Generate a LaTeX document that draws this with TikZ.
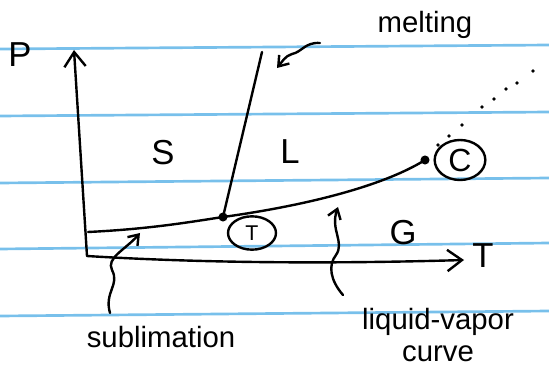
\documentclass[tikz,border=0pt]{standalone}
\usepackage{fontspec}
\setmainfont{Liberation Sans}
\usetikzlibrary{arrows.meta,shapes.geometric}
\definecolor{paperblue}{RGB}{120,192,235}

\begin{document}
\begin{tikzpicture}[x=0.75pt, y=-0.75pt,
  every node/.style={font=\fontsize{22}{24}\selectfont},
  ruled/.style={line width=2pt,paperblue},
  ink/.style={line width=1.8pt,line cap=round,line join=round},
  axis/.style={ink,-{Straight Barb[length=11pt,width=16pt]}},
  pointer/.style={ink,-{Straight Barb[length=7pt,width=10pt]}},
  big/.style={font=\fontsize{26}{30}\selectfont},
  circled/.style={draw,ink,ellipse,inner sep=0pt}]
\useasboundingbox (0,0) rectangle (549,370);
% ruled paper
\foreach \yl/\yr in {49/45,116/112,183/178,249/243,316/311}
  \draw[ruled] (0,\yl) -- (549,\yr);
% key points
\coordinate (o) at (87,256);
\coordinate (ptop) at (74,50);
\coordinate (tend) at (464,260);
\coordinate (sstart) at (88,232);
\coordinate (tp) at (223,217);
\coordinate (mtop) at (262,52);
\coordinate (cp) at (425,160);
% axes
\draw[axis] (o) -- (ptop);
\draw[axis] (o) .. controls (200,263) and (330,264) .. (tend);
% phase boundaries
\draw[ink] (sstart) .. controls (150,229) and (190,222) .. (tp);
\draw[ink] (tp) -- (mtop);
\draw[ink] (tp) .. controls (310,205) and (385,185) .. (cp);
\fill (tp) circle (3.4pt);
\fill (cp) circle (3.4pt);
% past the critical point
\foreach \p in {(438,145),(449,136),(462,125),(482,107),(494,99),(506,89),(517,83),(533,71)}
  \fill \p circle (1.4pt);
% regions and axis names
\node[big] (ls) at (163,153) {S};
\node[big] (ll) at (290,152) {L};
\node[big] (lg) at (403,233) {G};
\node[big] (lp) at (20,55) {P};
\node[big] (lt) at (483,256) {T};
% circled points
\node[circled,minimum width=36pt,minimum height=25pt,font=\fontsize{16}{18}\selectfont] (tcirc) at (252,233) {T};
\node[circled,minimum width=38pt,minimum height=30pt,font=\fontsize{24}{26}\selectfont] (ccirc) at (460,160) {C};
% labels and pointers
\node (melt) at (425,25) {melting};
\node (subl) at (161,337) {sublimation};
\node[align=center] (lv) at (438,335) {liquid-vapor\\curve};
\coordinate (mtail) at (320,43);
\coordinate (mhead) at (277,68);
\coordinate (stail) at (110,313);
\coordinate (shead) at (140,233);
\coordinate (vtail) at (343,295);
\coordinate (vhead) at (338,207);
\draw[pointer] (mtail) .. controls (305,42) and (302,52) .. (292,54) .. controls (285,56) and (282,62) .. (mhead);
\draw[pointer] (stail) .. controls (104,292) and (120,285) .. (112,270) .. controls (106,258) and (125,250) .. (shead);
\draw[pointer] (vtail) .. controls (330,280) and (328,265) .. (336,255) .. controls (345,242) and (330,230) .. (vhead);
\end{tikzpicture}
\end{document}
